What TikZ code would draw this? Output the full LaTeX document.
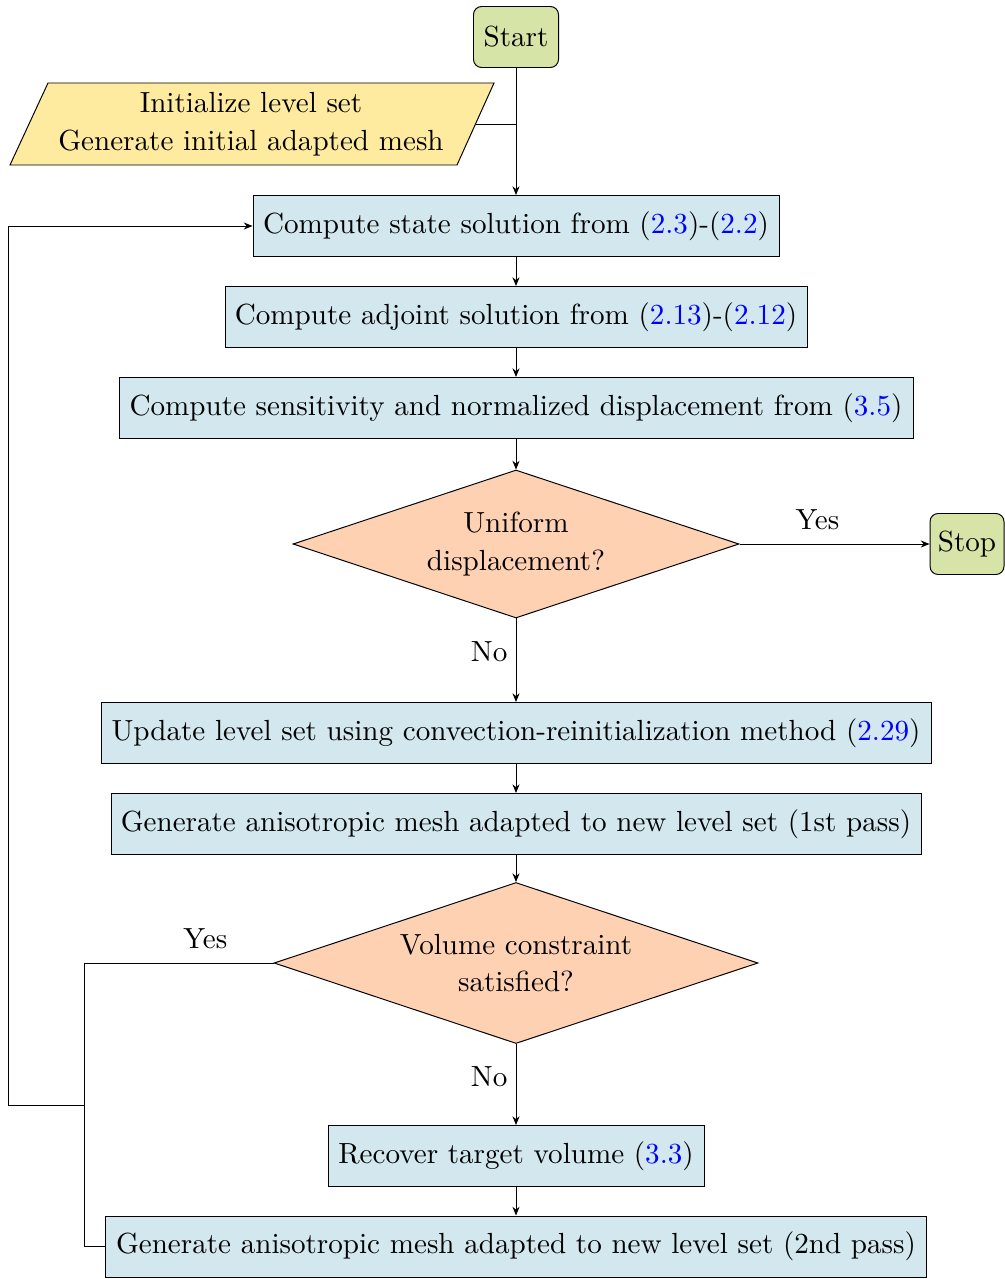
\documentclass[tikz,border=0pt]{standalone}
\usetikzlibrary{shapes.geometric,arrows.meta}
\definecolor{termfill}{RGB}{214,228,168}
\definecolor{iofill}{RGB}{255,235,160}
\definecolor{procfill}{RGB}{210,232,238}
\definecolor{decfill}{RGB}{255,209,179}
\newcommand{\eqr}[1]{(\textcolor{blue}{#1})}
\begin{document}
\begin{tikzpicture}[x=0.3676pt,y=-0.3676pt,line width=0.36pt,
  >={Stealth[length=3.2pt,width=2.6pt]},
  every node/.style={font=\fontsize{10.7}{12.8}\selectfont},
  term/.style={draw,rounded corners=3pt,fill=termfill,minimum height=61*0.3676pt,inner sep=0pt},
  proc/.style={draw,fill=procfill,minimum height=61*0.3676pt,inner sep=0pt},
  decision/.style={draw,diamond,fill=decfill,aspect=3,inner sep=0pt,align=center},
  lbl/.style={inner sep=0pt}]
\useasboundingbox (0,0) rectangle (1004,1279);
\node[term,minimum width=85*0.3676pt] (start) at (516,37) {Start};
\fill[iofill] (48,83) -- (494,83) -- (457,165) -- (10,165) -- cycle;
\draw (48,83) -- (494,83) -- (457,165) -- (10,165) -- cycle;
\node[align=center,inner sep=0pt] (init) at (251,124) {Initialize level set\\[1pt] Generate initial adapted mesh};
\coordinate (initR) at (475.5,124);
\node[proc,minimum width=526*0.3676pt] (state) at (516,226) {Compute state solution from \eqr{2.3}-\eqr{2.2}};
\node[proc,minimum width=582*0.3676pt] (adj) at (516,317) {Compute adjoint solution from \eqr{2.13}-\eqr{2.12}};
\node[proc,minimum width=794*0.3676pt] (sens) at (516,408) {Compute sensitivity and normalized displacement from \eqr{3.5}};
\node[decision,minimum width=446*0.3676pt,minimum height=148*0.3676pt] (dec1) at (516,544) {Uniform\\[1pt] displacement?};
\node[term,minimum width=74*0.3676pt] (stop) at (967,544) {Stop};
\node[proc,minimum width=830*0.3676pt] (upd) at (516,733) {Update level set using convection-reinitialization method \eqr{2.29}};
\node[proc,minimum width=810*0.3676pt] (gen1) at (516,824) {Generate anisotropic mesh adapted to new level set (1st pass)};
\node[decision,minimum width=484*0.3676pt,minimum height=161*0.3676pt] (dec2) at (516,963) {Volume constraint\\[1pt] satisfied?};
\node[proc,minimum width=376*0.3676pt] (rec) at (516,1156) {Recover target volume \eqr{3.3}};
\node[proc,minimum width=821*0.3676pt] (gen2) at (516,1246.5) {Generate anisotropic mesh adapted to new level set (2nd pass)};
\coordinate (j1) at (84,963);
\coordinate (j2) at (84,1105);
\coordinate (j3) at (8,1105);
\draw[->] (start) -- (state);
\draw (initR) -- (start.south |- initR);
\draw[->] (state) -- (adj);
\draw[->] (adj) -- (sens);
\draw[->] (sens) -- (dec1);
\draw[->] (dec1) -- node[lbl,above,yshift=5pt,pos=0.41] {Yes} (stop);
\draw[->] (dec1) -- node[lbl,left,xshift=-3pt,pos=0.4] {No} (upd);
\draw[->] (upd) -- (gen1);
\draw[->] (gen1) -- (dec2);
\draw[->] (dec2) -- node[lbl,left,xshift=-3pt,pos=0.4] {No} (rec);
\draw[->] (rec) -- (gen2);
\draw (dec2.west) -- node[lbl,above,yshift=5pt,pos=0.36] {Yes} (j1) |- (gen2.west);
\draw[->] (j2) -- (j3) |- (state.west);
\end{tikzpicture}
\end{document}
